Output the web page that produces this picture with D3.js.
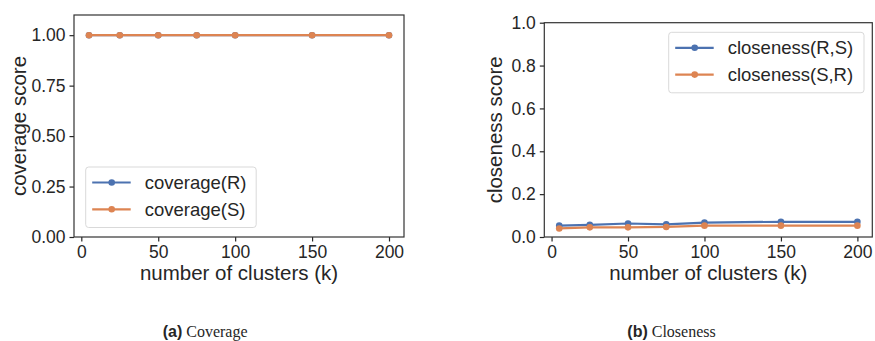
<!DOCTYPE html>
<html>
<head>
<meta charset="utf-8">
<script src="https://cdn.jsdelivr.net/npm/d3@7"></script>
<style>
  body { margin: 0; background: #fff; }
  text { fill: #262626; }
</style>
</head>
<body>
<div id="chart"></div>
<script>
// cluster counts (x) shared by both panels
var clusters = [5, 25, 50, 75, 100, 150, 200];

// panel (a) coverage
var coverageR = [1, 1, 1, 1, 1, 1, 1];
var coverageS = [1, 1, 1, 1, 1, 1, 1];

// panel (b) closeness
var closenessRS = [0.053, 0.057, 0.063, 0.059, 0.067, 0.071, 0.071];
var closenessSR = [0.040, 0.045, 0.045, 0.047, 0.053, 0.053, 0.053];

var xTicks = [0, 50, 100, 150, 200];
var yTicksA = [0, 0.25, 0.5, 0.75, 1.0];
var yTicksB = [0, 0.2, 0.4, 0.6, 0.8, 1.0];

var blue = "#4c72b0", orange = "#dd8452";
var sans = "'Liberation Sans', Arial, sans-serif";

var svg = d3.select("#chart").append("svg")
  .attr("width", 875)
  .attr("height", 341);

svg.append("rect").attr("width", 875).attr("height", 341).attr("fill", "#fff");

function panel(opt) {
  var x = d3.scaleLinear().domain([-4.75, 209.75]).range([opt.left, opt.right]);
  var y = d3.scaleLinear().domain(opt.yDomain).range([opt.bottom, opt.top]);
  var g = svg.append("g");

  // x axis
  var xa = g.append("g")
    .attr("transform", "translate(0," + opt.bottom + ")")
    .call(d3.axisBottom(x).tickValues(xTicks).tickSize(4.5).tickPadding(4).tickFormat(d3.format("d")));
  // y axis
  var ya = g.append("g")
    .attr("transform", "translate(" + opt.left + ",0)")
    .call(d3.axisLeft(y).tickValues(opt.yTicks).tickSize(4.5).tickPadding(4).tickFormat(d3.format(opt.yFmt)));

  [xa, ya].forEach(function(a) {
    a.select(".domain").remove();
    a.selectAll(".tick line").attr("stroke", "#262626").attr("stroke-width", 1.2);
    a.selectAll(".tick text")
      .style("font-family", sans)
      .style("font-size", "17.5px")
      .attr("fill", "#262626");
  });

  // frame
  g.append("rect")
    .attr("x", opt.left).attr("y", opt.top)
    .attr("width", opt.right - opt.left).attr("height", opt.bottom - opt.top)
    .attr("fill", "none").attr("stroke", "#333").attr("stroke-width", 1.2);

  var line = d3.line()
    .x(function(d) { return x(d[0]); })
    .y(function(d) { return y(d[1]); });

  opt.series.forEach(function(s) {
    var pts = clusters.map(function(c, i) { return [c, s.values[i]]; });
    g.append("path").datum(pts)
      .attr("d", line)
      .attr("fill", "none")
      .attr("stroke", s.color)
      .attr("stroke-width", 2.2);
    g.selectAll(null).data(pts).enter().append("circle")
      .attr("cx", function(d) { return x(d[0]); })
      .attr("cy", function(d) { return y(d[1]); })
      .attr("r", 3.3)
      .attr("fill", s.color);
  });

  // axis labels
  g.append("text")
    .attr("x", (opt.left + opt.right) / 2)
    .attr("y", 280)
    .attr("text-anchor", "middle")
    .style("font-family", sans)
    .style("font-size", "20.5px")
    .text("number of clusters (k)");

  g.append("text")
    .attr("transform", "translate(" + opt.yLabelX + "," + (opt.top + opt.bottom) / 2 + ") rotate(-90)")
    .attr("text-anchor", "middle")
    .attr("dy", "0.35em")
    .style("font-family", sans)
    .style("font-size", "20.5px")
    .text(opt.yLabel);

  // legend
  var lg = g.append("g").attr("transform", "translate(" + opt.legend.x + "," + opt.legend.y + ")");
  lg.append("rect")
    .attr("width", opt.legend.w).attr("height", 60.5)
    .attr("rx", 3)
    .attr("fill", "#fff").attr("fill-opacity", 0.85)
    .attr("stroke", "#d9d9d9").attr("stroke-width", 1);
  opt.series.forEach(function(s, i) {
    var ry = 15.5 + i * 26.8;
    lg.append("line")
      .attr("x1", 6.5).attr("x2", 45).attr("y1", ry).attr("y2", ry)
      .attr("stroke", s.color).attr("stroke-width", 2.2);
    lg.append("circle").attr("cx", 26).attr("cy", ry).attr("r", 3.3).attr("fill", s.color);
    lg.append("text")
      .attr("x", 59).attr("y", ry).attr("dy", "0.35em")
      .style("font-family", sans)
      .style("font-size", "18.5px")
      .text(s.name);
  });
}

panel({
  left: 74, right: 404, top: 15, bottom: 237,
  yDomain: [0, 1.1], yTicks: yTicksA, yFmt: ".2f",
  yLabel: "coverage score", yLabelX: 18.5,
  legend: { x: 85.7, y: 167, w: 170.5 },
  series: [
    { name: "coverage(R)", values: coverageR, color: blue },
    { name: "coverage(S)", values: coverageS, color: orange }
  ]
});

panel({
  left: 544.3, right: 872.3, top: 22.7, bottom: 237,
  yDomain: [0, 1], yTicks: yTicksB, yFmt: ".1f",
  yLabel: "closeness score", yLabelX: 495,
  legend: { x: 668.7, y: 32.3, w: 195.3 },
  series: [
    { name: "closeness(R,S)", values: closenessRS, color: blue },
    { name: "closeness(S,R)", values: closenessSR, color: orange }
  ]
});

// captions
function caption(cx, tag, word) {
  var t = svg.append("text")
    .attr("x", cx).attr("y", 336.5)
    .attr("text-anchor", "start")
    .style("font-size", "16px");
  t.append("tspan").style("font-family", sans).style("font-weight", "bold").text(tag);
  t.append("tspan").style("font-family", "'Liberation Serif', 'Times New Roman', serif").text(" " + word);
}
caption(162.7, "(a)", "Coverage");
caption(627.3, "(b)", "Closeness");
</script>
</body>
</html>
